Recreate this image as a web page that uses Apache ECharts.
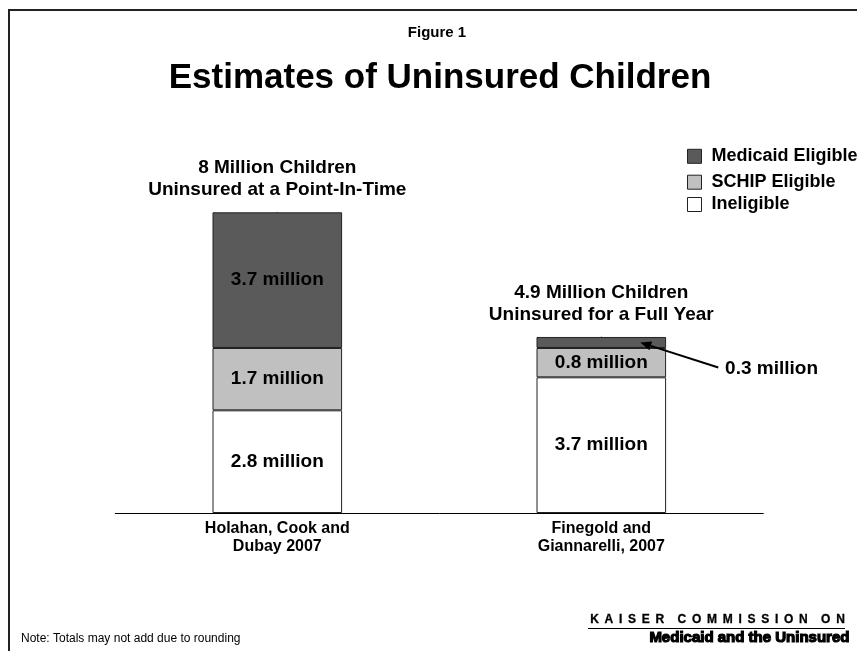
<!DOCTYPE html>
<html><head><meta charset="utf-8">
<script src="https://cdn.jsdelivr.net/npm/echarts@6/dist/echarts.min.js"></script>
<style>html,body{margin:0;padding:0;background:#fff}#c{width:857px;height:651px}</style>
</head><body><div id="c"></div>
<script>
// ---- data ----
const categories = ['Holahan, Cook and\nDubay 2007', 'Finegold and\nGiannarelli, 2007'];
const ineligible = [2.8, 3.7];
const schipEligible = [1.7, 0.8];
const medicaidEligible = [3.7, 0.3];
const seriesNames = ['Ineligible', 'SCHIP Eligible', 'Medicaid Eligible'];
const annotations = ['8 Million Children\nUninsured at a Point-In-Time', '4.9 Million Children\nUninsured for a Full Year'];
const figureLabel = 'Figure 1';
const chartTitle = 'Estimates of Uninsured Children';
const noteText = 'Note: Totals may not add due to rounding';
const logoWords = ['KAISER', 'COMMISSION', 'ON'];
const logoLine2 = 'Medicaid and the Uninsured';

const totals = categories.map((_, i) => ineligible[i] + schipEligible[i] + medicaidEligible[i]);
const LG = ' \u2009';
const logoLine1 = logoWords.map(w => w.split('').join(LG)).join('    ');

const FONT = 'Liberation Sans, Arial, sans-serif';
const fmt = p => p.value + ' million';
const segLabel = { show: true, position: 'inside', formatter: fmt, fontFamily: FONT, fontSize: 19, fontWeight: 'bold', color: '#000' };
const border = { borderColor: '#222', borderWidth: 1 };
const legendText = { fontFamily: FONT, fontSize: 18, fontWeight: 'bold', color: '#000', lineHeight: 18, padding: [0, 0, 0, 5] };

const chart = echarts.init(document.getElementById('c'), null, { renderer: 'canvas' });
chart.setOption({
  animation: false,
  backgroundColor: '#fff',
  title: [
    { text: figureLabel, left: 432, top: 20, textAlign: 'center', textStyle: { fontFamily: FONT, fontSize: 15, fontWeight: 'bold', color: '#000' } },
    { text: chartTitle, left: 435, top: 56, textAlign: 'center', textStyle: { fontFamily: FONT, fontSize: 35, fontWeight: 'bold', color: '#000' } }
  ],
  legend: [
    { data: [seriesNames[2]], left: 687, top: 147.3, padding: 0, itemWidth: 14, itemHeight: 14, icon: 'rect', itemStyle: { borderWidth: 1 }, textStyle: legendText },
    { data: [seriesNames[1]], left: 687, top: 173.2, padding: 0, itemWidth: 14, itemHeight: 14, icon: 'rect', itemStyle: { borderWidth: 1 }, textStyle: legendText },
    { data: [seriesNames[0]], left: 687, top: 195.5, padding: 0, itemWidth: 14, itemHeight: 14, icon: 'rect', itemStyle: { borderWidth: 1 }, textStyle: legendText }
  ],
  grid: { left: 115.3, right: 93.7, top: 146.3, bottom: 138, containLabel: false },
  xAxis: {
    type: 'category', data: categories,
    axisLine: { lineStyle: { color: '#000', width: 1 } },
    axisTick: { show: false },
    axisLabel: { fontFamily: FONT, fontSize: 16, fontWeight: 'bold', color: '#000', lineHeight: 18.5, margin: 6, interval: 0 }
  },
  yAxis: { type: 'value', min: 0, max: 10, show: false, splitLine: { show: false } },
  series: [
    { name: seriesNames[0], type: 'bar', stack: 'total', barWidth: '40%', data: ineligible,
      itemStyle: Object.assign({ color: '#ffffff' }, border), label: segLabel },
    { name: seriesNames[1], type: 'bar', stack: 'total', barWidth: '40%', data: schipEligible,
      itemStyle: Object.assign({ color: '#c0c0c0' }, border), label: segLabel },
    { name: seriesNames[2], type: 'bar', stack: 'total', barWidth: '40%',
      data: medicaidEligible.map((v, i) => i === 1 ? { value: v, label: { position: 'right', distance: 59, offset: [0, 26] } } : v),
      itemStyle: Object.assign({ color: '#5a5a5a' }, border), label: segLabel },
    { name: 'annotation', type: 'scatter', data: totals, symbolSize: 1, silent: true, z: 1,
      itemStyle: { color: '#222', opacity: 1 },
      emphasis: { disabled: true },
      label: { show: true, position: 'top', distance: 11, formatter: p => annotations[p.dataIndex], opacity: 1,
        fontFamily: FONT, fontSize: 19, fontWeight: 'bold', color: '#000', lineHeight: 22, align: 'center' } }
  ]
});

// arrow pointing to the small Medicaid segment of the second bar
const seg = chart.convertToPixel({ xAxisIndex: 0, yAxisIndex: 0 }, [1, totals[1] - medicaidEligible[1] / 2]);
const head = [seg[0] + 39, seg[1]];
const tail = [seg[0] + 117, seg[1] + 25];
const dx = head[0] - tail[0], dy = head[1] - tail[1];
const len = Math.sqrt(dx * dx + dy * dy), ux = dx / len, uy = dy / len;
const hl = 11, hw = 4.5;
const base = [head[0] - ux * hl, head[1] - uy * hl];

chart.setOption({
  graphic: [
    { type: 'rect', shape: { x: 9, y: 10, width: 900, height: 700 }, style: { fill: null, stroke: '#222', lineWidth: 2 }, silent: true, z: 100 },
    { type: 'line', shape: { x1: tail[0], y1: tail[1], x2: base[0], y2: base[1] }, style: { stroke: '#000', lineWidth: 2 }, z: 100 },
    { type: 'polygon', shape: { points: [head, [base[0] - uy * hw, base[1] + ux * hw], [base[0] + uy * hw, base[1] - ux * hw]] }, style: { fill: '#000' }, z: 100 },
    { type: 'text', left: 21, top: 633, style: { text: noteText, font: '12px ' + FONT, fill: '#000' } },
    { type: 'text', right: 12, top: 614, style: { text: logoLine1, font: 'bold 12px ' + FONT, fill: '#000', stroke: '#000', lineWidth: 0.3 } },
    { type: 'line', shape: { x1: 588, y1: 628.5, x2: 845, y2: 628.5 }, style: { stroke: '#000', lineWidth: 1 } },
    { type: 'text', right: 7, top: 630, style: { text: logoLine2, font: 'bold 15px ' + FONT, fill: '#000', stroke: '#000', lineWidth: 1.2 } }
  ]
});
</script></body></html>
